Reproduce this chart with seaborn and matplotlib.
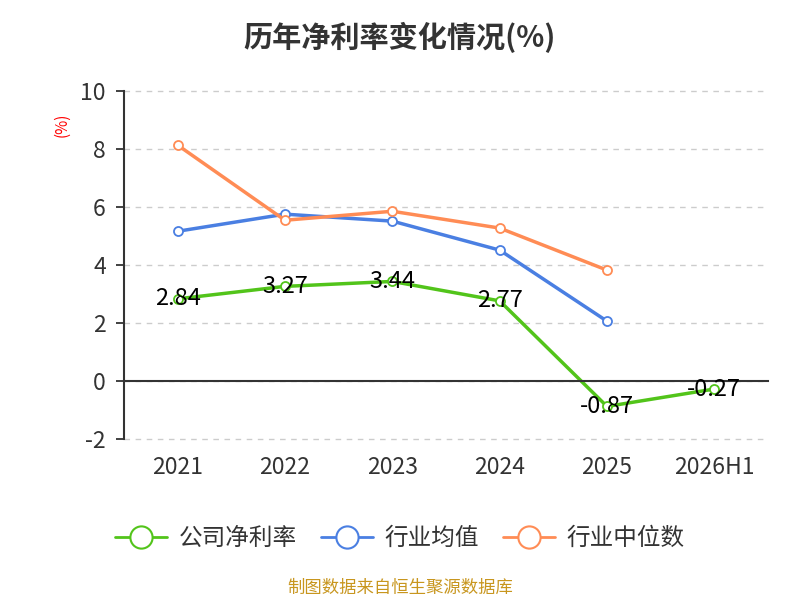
import pandas as pd
import numpy as np
import seaborn as sns
import matplotlib.pyplot as plt
from matplotlib.lines import Line2D
from matplotlib.ticker import FixedLocator

# 数据
years = ['2021', '2022', '2023', '2024', '2025', '2026H1']
company = [2.84, 3.27, 3.44, 2.77, -0.87, -0.27]
industry_mean = [5.17, 5.76, 5.52, 4.52, 2.07, np.nan]
industry_median = [8.14, 5.55, 5.86, 5.28, 3.83, np.nan]

series_names = ['公司净利率', '行业均值', '行业中位数']
colors = ['#52c41a', '#4a7fe2', '#ff8c55']

df = pd.concat([
    pd.DataFrame({'year': years, 'value': company, 'series': series_names[0]}),
    pd.DataFrame({'year': years, 'value': industry_mean, 'series': series_names[1]}),
    pd.DataFrame({'year': years, 'value': industry_median, 'series': series_names[2]}),
], ignore_index=True)
df['x'] = df['year'].map({y: i for i, y in enumerate(years)})

sns.set_style('white')
plt.rcParams['font.family'] = ['Noto Sans CJK SC', 'DejaVu Sans']
plt.rcParams['axes.unicode_minus'] = False

fig = plt.figure(figsize=(8, 6), dpi=100)
ax = fig.add_axes([0.155, 0.268, 0.805, 0.58])

sns.lineplot(data=df, x='x', y='value', hue='series', palette=colors,
             hue_order=series_names, marker='o', markersize=6.5,
             markerfacecolor='white', markeredgewidth=1.3, linewidth=2.5,
             legend=False, ax=ax, sort=False)
for ln, c in zip(ax.get_lines(), colors):
    ln.set_markeredgecolor(c)

# 数据标签
for i, v in enumerate(company):
    ax.text(i, v, f'{v:.2f}', ha='center', va='center', fontsize=17, color='black')

ax.set_xlim(-0.5, len(years) - 0.5)
ax.set_ylim(-2, 10)
ax.set_yticks(range(-2, 11, 2))
ax.yaxis.grid(True, linestyle=(0, (4, 4)), color='#cccccc', linewidth=1)
ax.set_axisbelow(True)
for t in ax.yaxis.get_major_ticks():
    t.gridline.set_clip_on(False)

for s in ['top', 'right']:
    ax.spines[s].set_visible(False)
ax.spines['left'].set_color('#333333')
ax.spines['left'].set_linewidth(1.5)
ax.spines['bottom'].set_position(('data', 0))
ax.spines['bottom'].set_color('#333333')
ax.spines['bottom'].set_linewidth(1.5)

ax.set_xticks(range(len(years)))
ax.set_xticklabels(years)
ax.xaxis.set_minor_locator(FixedLocator(np.arange(-0.5, len(years), 1)))
ax.tick_params(axis='x', which='major', length=0, pad=54, labelsize=16.5, labelcolor='#333333')
ax.tick_params(axis='x', which='minor', length=6, width=1.3, color='#333333', direction='out')
ax.tick_params(axis='y', length=6, width=1.3, color='#333333', labelsize=16.5,
               labelcolor='#333333', left=True, pad=7)
ax.set_xlabel('')
ax.set_ylabel('')

fig.text(0.078, 0.792, '(%)', rotation=90, color='red', fontsize=11, ha='center', va='center')
fig.suptitle('历年净利率变化情况(%)', y=0.963, fontsize=21, fontweight='bold', color='#333333')

handles = [Line2D([], [], color=c, linewidth=2, marker='o', markersize=16,
                  markerfacecolor='white', markeredgecolor=c, markeredgewidth=1.5)
           for c in colors]
fig.legend(handles, series_names, loc='center', bbox_to_anchor=(0.5, 0.102), ncol=3,
           frameon=False, fontsize=17, handlelength=2.2, columnspacing=1.0,
           handletextpad=0.5, labelcolor='#333333')

fig.text(0.5, 0.02, '制图数据来自恒生聚源数据库', ha='center', va='center',
         fontsize=12.5, color='#c8961e')

fig.savefig('out.png', dpi=100)
